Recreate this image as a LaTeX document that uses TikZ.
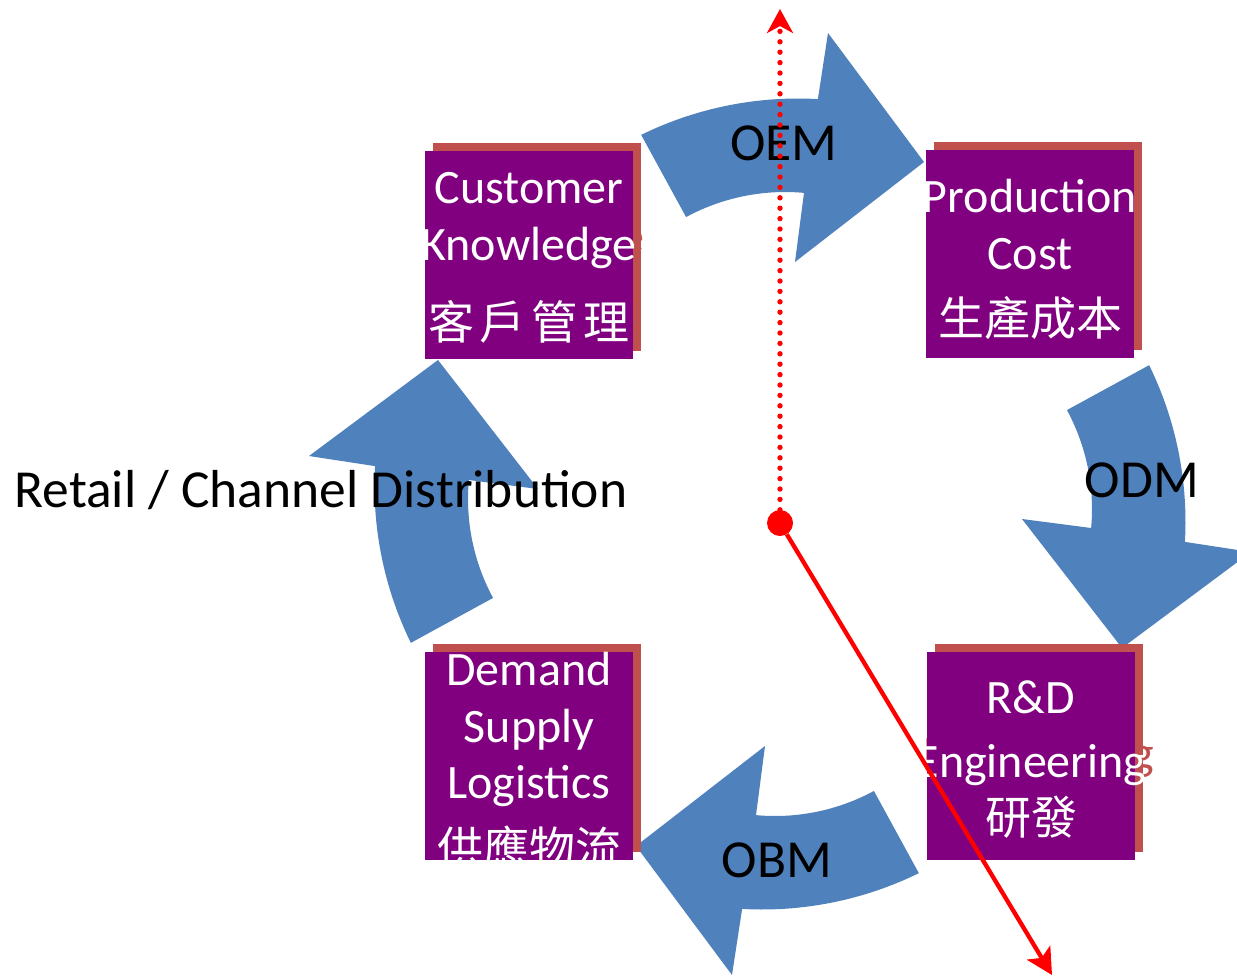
\documentclass[tikz,border=0pt]{standalone}
\usepackage{fontspec}
\setmainfont{Carlito}
\newfontfamily\hanfont{Noto Sans CJK TC}
\usetikzlibrary{arrows.meta}

\definecolor{flowblue}{HTML}{4F81BD}
\definecolor{cardpurple}{HTML}{800080}
\definecolor{cardshade}{HTML}{C0504D}
\definecolor{axisred}{HTML}{FF0000}

\tikzset{
  latin/.style={anchor=base, inner sep=0pt, font=\fontsize{48}{57}\selectfont},
  han/.style={anchor=base, inner sep=0pt, font=\hanfont\fontsize{46}{55}\selectfont},
  flowtag/.style={anchor=base, inner sep=0pt, text=black, font=\fontsize{53.5}{64}\selectfont},
  card/.style={rectangle, fill=cardpurple, minimum size=208pt, inner sep=0pt},
  cardback/.style={rectangle, fill=cardshade, minimum size=208pt, inner sep=0pt},
  shadetext/.style={text=cardshade},
  inktext/.style={text=white},
  hubdot/.style={circle, fill=axisred, minimum size=26pt, inner sep=0pt},
  dotline/.style={axisred, line width=5.4pt, line cap=round, dash pattern=on 0pt off 10.4pt,
    -{Stealth[length=24pt, width=26pt, inset=7pt]}},
  rayline/.style={axisred, line width=4.3pt,
    -{Stealth[length=26pt, width=27pt, inset=6pt]}},
}

\begin{document}
\begin{tikzpicture}[x=1pt, y=-1pt]
  \useasboundingbox (0,0) rectangle (1237,978);
  \clip (0,0) rectangle (1237,978);
  \fill[white] (0,0) rectangle (1237,978);

  % four bent block arrows turning round the middle
  \foreach \ang in {0,-90,180,90} {
    \begin{scope}[shift={(780,504)}, rotate=\ang]
      \fill[flowblue]
        plot[variable=\t, domain=-116.1:-86.8, samples=30]
          ({18+356.5*cos(\t)},{-49+356.5*sin(\t)})
        -- (48,-471) -- (144,-342) -- (15,-242)
        -- plot[variable=\t, domain=-84.76:-118.4, samples=30]
          ({5+208*cos(\t)},{-104+208*sin(\t)})
        -- cycle;
    \end{scope}
  }

  % card shadows
  \node[cardback] (ck-back) at (537,247) {};
  \node[cardback] (pc-back) at (1038,246) {};
  \node[cardback] (rd-back) at (1039,748) {};
  \node[cardback] (ds-back) at (537,748) {};

  % shadows of the words that run past the card edge
  \begin{scope}[shift={(8,-8)}]
    \node[latin,shadetext] (ck2-shade) at (529,260) {Knowledge};
    \node[latin,shadetext] (rd2-shade) at (1031,777) {Engineering};
  \end{scope}

  % cards
  \node[card] (ck) at (529,255) {};
  \node[card] (pc) at (1030,254) {};
  \node[card] (rd) at (1031,756) {};
  \node[card] (ds) at (529,756) {};

  % card texts
  \node[latin,inktext] (ck1) at (529,203) {Customer};
  \node[latin,inktext] (ck2) at (529,260) {Knowledge};
  \node[han,inktext]   (ck3) at (529,339) {客\hspace{6pt}戶\hspace{6pt}管\hspace{6pt}理};
  \node[latin,inktext] (pc1) at (1030,212) {Production};
  \node[latin,inktext] (pc2) at (1030,269) {Cost};
  \node[han,inktext]   (pc3) at (1030,335) {生產成本};
  \node[latin,inktext] (rd1) at (1031,713) {R\&D};
  \node[latin,inktext] (rd2) at (1031,777) {Engineering};
  \node[han,inktext]   (rd3) at (1031,834) {研發};
  \node[latin,inktext] (ds1) at (529,685) {Demand};
  \node[latin,inktext] (ds2) at (529,742) {Supply};
  \node[latin,inktext] (ds3) at (529,798) {Logistics};
  \node[han,inktext]   (ds4) at (529,865) {供應物流};

  % arrow labels
  \node[flowtag] (oem) at (784,160) {OEM};
  \node[flowtag] (odm) at (1142,497) {ODM};
  \node[flowtag] (obm) at (777,877) {OBM};
  \node[flowtag] (retail) at (321,507) {Retail / Channel Distribution};

  % axes from the hub
  \node[hubdot] (hub) at (780,523) {};
  \coordinate (up) at (780,9);
  \coordinate (ray) at (1052,975);
  \draw[dotline] (hub) -- (up);
  \draw[rayline] (hub) -- (ray);
\end{tikzpicture}
\end{document}
